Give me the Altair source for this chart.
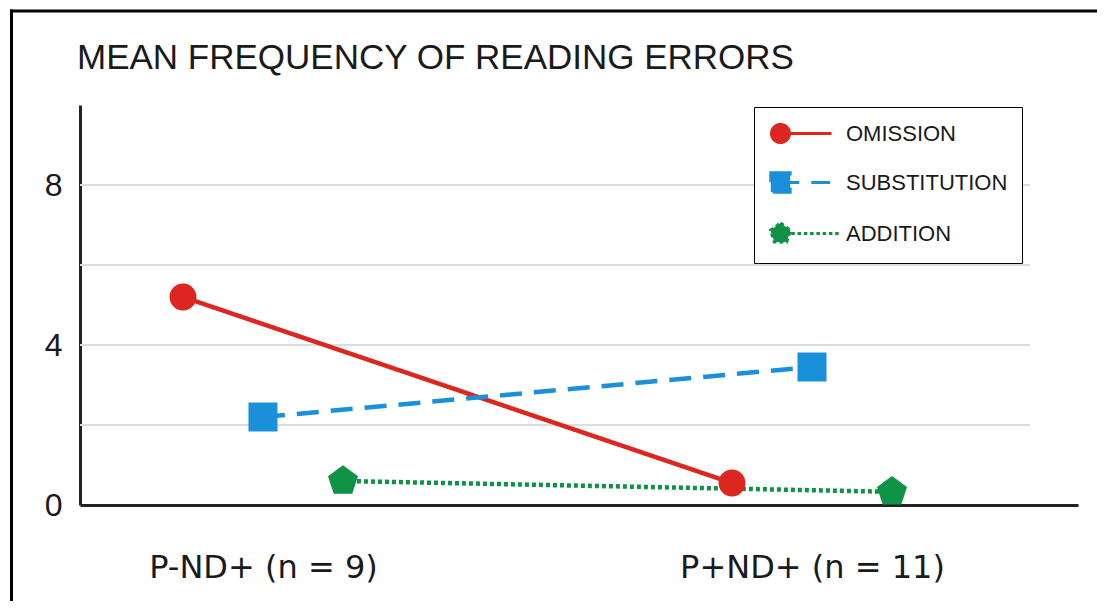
import json
import altair as alt
import pandas as pd

# ---------------- data ----------------
categories = ["P-ND+ (n = 9)", "P+ND+ (n = 11)"]
series = ["OMISSION", "SUBSTITUTION", "ADDITION"]
omission = [5.2, 0.55]
substitution = [2.2, 3.45]
addition = [0.6, 0.33]
y_ticks = [0, 4, 8]
grid_values = [2, 4, 6, 8]
title_text = "MEAN FREQUENCY OF READING ERRORS"

# ---------------- styles ----------------
colors = ["#DE2620", "#1A8FDA", "#0E9245"]
dashes = [[1, 0], [22, 12], [4, 3]]
FONT = "Liberation Sans"
TEXT = "#1a1a1a"

rows = []
for s, vals in zip(series, [omission, substitution, addition]):
    for gi, v in enumerate(vals):
        rows.append({"group": gi, "category": categories[gi], "series": s, "value": v})
df = pd.DataFrame(rows)

# Marker shapes. The trailing line pieces only show when the symbol is stroked
# (legend); data points are drawn with strokeWidth 0 so only the fill shows.
circ = "M-0.818,0 A0.818,0.818 0 1,1 0.818,0 A0.818,0.818 0 1,1 -0.818,0 Z"
sq = "M-0.879,-0.879 L0.879,-0.879 L0.879,0.879 L-0.879,0.879 Z"
pent = "M0,-0.956 L0.909,-0.295 L0.562,0.773 L-0.562,0.773 L-0.909,-0.295 Z"
tail_solid = " M0,0 L4.64,0"
tail_dash = " M0,0 L1.7,0 M2.8,0 L4.5,0"
tail_dot = "".join(
    f" M{0.98 + 0.57 * k:.3f},0 L{0.98 + 0.57 * k + 0.32:.3f},0" for k in range(8)
)
shape_paths = [circ + tail_solid, sq + tail_dash, pent + tail_dot]

color_scale = alt.Scale(domain=series, range=colors)
dash_scale = alt.Scale(domain=series, range=dashes)
shape_scale = alt.Scale(domain=series, range=shape_paths)

x_enc = alt.X(
    "xpos:Q",
    scale=alt.Scale(domain=[-0.3333, 1.4845], nice=False, zero=False),
    axis=alt.Axis(
        values=[0, 1],
        labelExpr=f"{json.dumps(categories)}[datum.value]",
        title=None, grid=False, ticks=False, tickSize=0,
        domainColor="#222", domainWidth=3,
        labelFontSize=32, labelFont="DejaVu Sans", labelColor=TEXT,
        labelPadding=47, labelFlush=False, labelLimit=500,
    ),
)
y_enc = alt.Y(
    "value:Q",
    scale=alt.Scale(domain=[0, 10], nice=False),
    axis=alt.Axis(
        values=y_ticks, title=None, grid=False, ticks=False, tickSize=0,
        domainColor="#222", domainWidth=3,
        labelFontSize=32, labelFont=FONT, labelColor=TEXT, labelPadding=18,
    ),
)

legend = alt.Legend(
    title=None,
    orient="none",
    legendX=674,
    legendY=2,
    direction="vertical",
    fillColor="white",
    strokeColor="black",
    padding=14,
    rowPadding=17,
    labelFont=FONT,
    labelFontSize=22,
    labelColor=TEXT,
    labelOffset=53,
    labelLimit=400,
    symbolSize=484,
    symbolStrokeWidth=3,
    symbolOpacity=1,
)

base = alt.Chart(df).transform_calculate(
    xpos=f"datum.group + 0.1457 * (indexof({json.dumps(series)}, datum.series) - 1)"
)

grid = alt.Chart(pd.DataFrame({"value": grid_values})).mark_rule(
    color="#dcdcdc", strokeWidth=2
).encode(y=y_enc, x=alt.value(0), x2=alt.value(950))

lines = base.mark_line(strokeWidth=4.5).encode(
    x=x_enc,
    y=y_enc,
    color=alt.Color("series:N", scale=color_scale, legend=legend),
    strokeDash=alt.StrokeDash("series:N", scale=dash_scale, legend=None),
)

points = base.mark_point(filled=True, opacity=1, strokeWidth=0, size=1089).encode(
    x=x_enc,
    y=y_enc,
    color=alt.Color("series:N", scale=color_scale, legend=legend),
    shape=alt.Shape("series:N", scale=shape_scale, legend=legend),
)

# figure frame (top and left edges; the others fall outside the picture)
frame_data = alt.Data(values=[{"a": 1}])
frame_top = alt.Chart(frame_data).mark_rule(color="black", strokeWidth=3).encode(
    x=alt.value(-70), x2=alt.value(1040), y=alt.value(-94)
)
frame_left = alt.Chart(frame_data).mark_rule(color="black", strokeWidth=3).encode(
    x=alt.value(-68.5), y=alt.value(-95.5), y2=alt.value(600)
)

chart = alt.layer(grid, lines, points, frame_top, frame_left).properties(
    width=998,
    height=400,
    title=alt.Title(
        text=title_text, anchor="start", frame="group", fontSize=35, font=FONT,
        fontWeight="normal", color=TEXT, baseline="alphabetic", offset=0, dy=95.5, dx=-3,
    ),
    padding={"left": 72, "top": 97, "right": 19, "bottom": 96},
    autosize="none",
).configure_view(stroke=None)

chart.save("out.html", embed_options={"renderer": "svg", "actions": False})
